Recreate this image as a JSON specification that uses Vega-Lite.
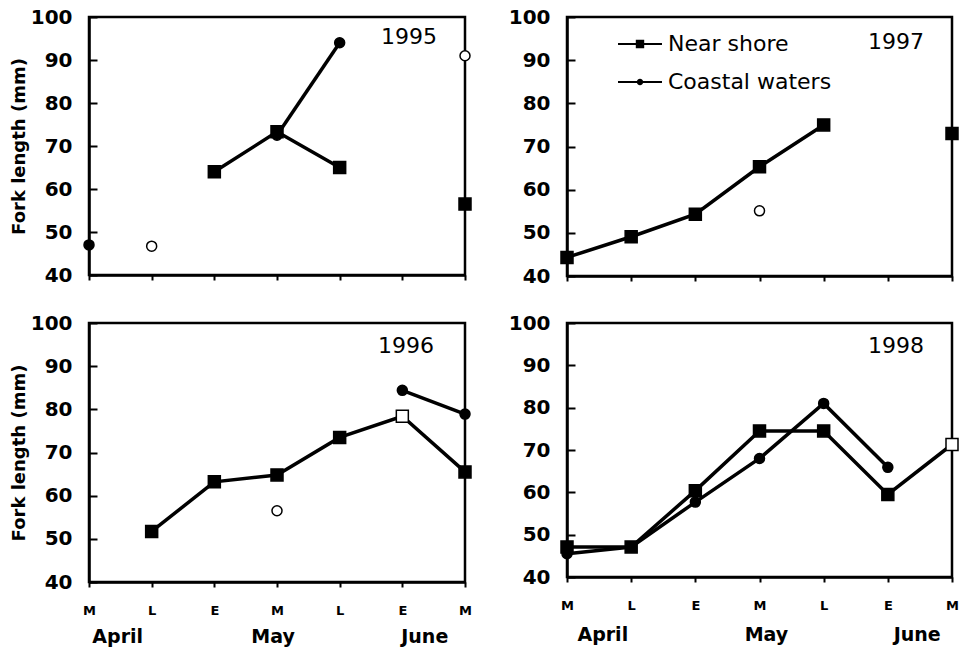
{
  "$schema": "https://vega.github.io/schema/vega-lite/v6.json",
  "padding": {"left": 9, "top": 5, "right": 0, "bottom": 5},
  "background": "white",
  "config": {
    "font": "DejaVu Sans",
    "view": {"stroke": "black", "strokeWidth": 2.5},
    "axis": {"domainColor": "black", "domainWidth": 2.5, "tickColor": "black", "tickWidth": 2, "labelColor": "black", "titleColor": "black", "grid": false, "labelFont": "DejaVu Sans", "titleFont": "DejaVu Sans"},
    "axisY": {"values": [40, 50, 60, 70, 80, 90, 100], "tickSize": -8, "labelFontSize": 20, "labelFontWeight": "bold", "labelPadding": 25, "titleFontSize": 18, "titleFontWeight": "bold", "titlePadding": 2},
    "legend": {"labelFont": "DejaVu Sans"}
  },
  "data": {"values": [
    {"year": 1995, "site": "Coastal waters", "period": 1, "length": 47, "run": "95c1", "n_small": false},
    {"year": 1995, "site": "Coastal waters", "period": 2, "length": 46.7, "run": "95c2", "n_small": true},
    {"year": 1995, "site": "Coastal waters", "period": 4, "length": 72.5, "run": "95c3", "n_small": false},
    {"year": 1995, "site": "Coastal waters", "period": 5, "length": 94, "run": "95c3", "n_small": false},
    {"year": 1995, "site": "Coastal waters", "period": 7, "length": 91, "run": "95c4", "n_small": true},
    {"year": 1995, "site": "Near shore", "period": 3, "length": 64, "run": "95n1", "n_small": false},
    {"year": 1995, "site": "Near shore", "period": 4, "length": 73.3, "run": "95n1", "n_small": false},
    {"year": 1995, "site": "Near shore", "period": 5, "length": 65, "run": "95n1", "n_small": false},
    {"year": 1995, "site": "Near shore", "period": 7, "length": 56.5, "run": "95n2", "n_small": false},
    {"year": 1997, "site": "Coastal waters", "period": 4, "length": 55.1, "run": "97c1", "n_small": true},
    {"year": 1997, "site": "Near shore", "period": 1, "length": 44.3, "run": "97n1", "n_small": false},
    {"year": 1997, "site": "Near shore", "period": 2, "length": 49.1, "run": "97n1", "n_small": false},
    {"year": 1997, "site": "Near shore", "period": 3, "length": 54.3, "run": "97n1", "n_small": false},
    {"year": 1997, "site": "Near shore", "period": 4, "length": 65.3, "run": "97n1", "n_small": false},
    {"year": 1997, "site": "Near shore", "period": 5, "length": 75, "run": "97n1", "n_small": false},
    {"year": 1997, "site": "Near shore", "period": 7, "length": 73, "run": "97n2", "n_small": false},
    {"year": 1996, "site": "Coastal waters", "period": 4, "length": 56.5, "run": "96c1", "n_small": true},
    {"year": 1996, "site": "Coastal waters", "period": 6, "length": 84.4, "run": "96c2", "n_small": false},
    {"year": 1996, "site": "Coastal waters", "period": 7, "length": 78.9, "run": "96c2", "n_small": false},
    {"year": 1996, "site": "Near shore", "period": 2, "length": 51.7, "run": "96n1", "n_small": false},
    {"year": 1996, "site": "Near shore", "period": 3, "length": 63.2, "run": "96n1", "n_small": false},
    {"year": 1996, "site": "Near shore", "period": 4, "length": 64.8, "run": "96n1", "n_small": false},
    {"year": 1996, "site": "Near shore", "period": 5, "length": 73.5, "run": "96n1", "n_small": false},
    {"year": 1996, "site": "Near shore", "period": 6, "length": 78.4, "run": "96n1", "n_small": true},
    {"year": 1996, "site": "Near shore", "period": 7, "length": 65.5, "run": "96n1", "n_small": false},
    {"year": 1998, "site": "Coastal waters", "period": 1, "length": 45.5, "run": "98c1", "n_small": false},
    {"year": 1998, "site": "Coastal waters", "period": 2, "length": 47.1, "run": "98c1", "n_small": false},
    {"year": 1998, "site": "Coastal waters", "period": 3, "length": 57.7, "run": "98c1", "n_small": false},
    {"year": 1998, "site": "Coastal waters", "period": 4, "length": 68, "run": "98c1", "n_small": false},
    {"year": 1998, "site": "Coastal waters", "period": 5, "length": 81, "run": "98c1", "n_small": false},
    {"year": 1998, "site": "Coastal waters", "period": 6, "length": 65.9, "run": "98c1", "n_small": false},
    {"year": 1998, "site": "Near shore", "period": 1, "length": 47.1, "run": "98n1", "n_small": false},
    {"year": 1998, "site": "Near shore", "period": 2, "length": 47.1, "run": "98n1", "n_small": false},
    {"year": 1998, "site": "Near shore", "period": 3, "length": 60.4, "run": "98n1", "n_small": false},
    {"year": 1998, "site": "Near shore", "period": 4, "length": 74.5, "run": "98n1", "n_small": false},
    {"year": 1998, "site": "Near shore", "period": 5, "length": 74.5, "run": "98n1", "n_small": false},
    {"year": 1998, "site": "Near shore", "period": 6, "length": 59.5, "run": "98n1", "n_small": false},
    {"year": 1998, "site": "Near shore", "period": 7, "length": 71.3, "run": "98n1", "n_small": true}
  ]},
  "columns": 2,
  "spacing": {"row": 47, "column": 102},
  "bounds": "flush",
  "resolve": {"scale": {"shape": "independent"}, "legend": {"shape": "independent"}},
  "concat": [
    {
      "width": 376, "height": 258,
      "title": {"text": "1995", "anchor": "end", "offset": -42, "dx": -28, "fontSize": 22, "fontWeight": "normal", "frame": "group", "color": "black"},
      "transform": [{"filter": "datum.year === 1995"}],
      "encoding": {
        "x": {"field": "period", "type": "quantitative", "scale": {"domain": [1, 7], "nice": false, "zero": false}, "axis": {"values": [1, 2, 3, 4, 5, 6, 7], "labels": false, "tickSize": 5, "title": null}},
        "y": {"field": "length", "type": "quantitative", "scale": {"domain": [40, 100], "nice": false, "zero": false}, "axis": {"title": "Fork length (mm)"}}
      },
      "layer": [
        {"mark": {"type": "line", "color": "black", "strokeWidth": 3.5}, "encoding": {"detail": {"field": "run"}}},
        {"transform": [{"filter": "datum.site === 'Coastal waters'"}],
         "mark": {"type": "point", "shape": "circle", "opacity": 1, "stroke": "black", "strokeWidth": 1.5, "size": 100},
         "encoding": {"fill": {"condition": {"test": "datum.n_small", "value": "white"}, "value": "black"}}},
        {"transform": [{"filter": "datum.site === 'Near shore'"}],
         "mark": {"type": "point", "shape": "square", "opacity": 1, "stroke": "black", "strokeWidth": 1.5, "size": 144},
         "encoding": {"fill": {"condition": {"test": "datum.n_small", "value": "white"}, "value": "black"}}}
      ]
    },
    {
      "width": 385, "height": 259,
      "title": {"text": "1997", "anchor": "end", "offset": -47, "dx": -28, "fontSize": 22, "fontWeight": "normal", "frame": "group", "color": "black"},
      "transform": [{"filter": "datum.year === 1997"}],
      "encoding": {
        "x": {"field": "period", "type": "quantitative", "scale": {"domain": [1, 7], "nice": false, "zero": false}, "axis": {"values": [1, 2, 3, 4, 5, 6, 7], "labels": false, "tickSize": 5, "title": null}},
        "y": {"field": "length", "type": "quantitative", "scale": {"domain": [40, 100], "nice": false, "zero": false}, "axis": {"title": null}}
      },
      "layer": [
        {"mark": {"type": "line", "color": "black", "strokeWidth": 3.5}, "encoding": {"detail": {"field": "run"}}},
        {"transform": [{"filter": "datum.site === 'Coastal waters'"}],
         "mark": {"type": "point", "shape": "circle", "opacity": 1, "stroke": "black", "strokeWidth": 1.5, "size": 100},
         "encoding": {"fill": {"condition": {"test": "datum.n_small", "value": "white"}, "value": "black"}}},
        {"transform": [{"filter": "datum.site === 'Near shore'"}],
         "mark": {"type": "point", "shape": "square", "opacity": 1, "stroke": "black", "strokeWidth": 1.5, "size": 144},
         "encoding": {"fill": {"condition": {"test": "datum.n_small", "value": "white"}, "value": "black"}}},
        {"transform": [{"filter": "datum.year === 0"}],
         "mark": {"type": "point", "filled": true, "color": "black", "opacity": 1},
         "encoding": {
           "shape": {"field": "site", "type": "nominal",
             "scale": {"domain": ["Near shore", "Coastal waters"], "range": ["M-1.57,-0.08H1.57V0.08H-1.57ZM-0.3,-0.3H0.3V0.3H-0.3Z", "M-1.57,-0.08H1.57V0.08H-1.57ZM0.23,0A0.23,0.23,0,1,1,-0.23,0A0.23,0.23,0,1,1,0.23,0Z"]},
             "legend": {"title": null, "orient": "none", "legendX": 58, "legendY": 12, "padding": 0, "symbolSize": 784, "symbolFillColor": "black", "symbolOpacity": 1, "labelFontSize": 22, "labelOffset": 13, "rowPadding": 12, "labelColor": "black", "labelLimit": 400}}}}
      ]
    },
    {
      "width": 376, "height": 259,
      "title": {"text": "1996", "anchor": "end", "offset": -45, "dx": -31, "fontSize": 22, "fontWeight": "normal", "frame": "group", "color": "black"},
      "transform": [{"filter": "datum.year === 1996"}],
      "encoding": {
        "y": {"field": "length", "type": "quantitative", "scale": {"domain": [40, 100], "nice": false, "zero": false}, "axis": {"title": "Fork length (mm)"}}
      },
      "layer": [
        {"mark": {"type": "line", "color": "black", "strokeWidth": 3.5},
         "encoding": {
           "x": {"field": "period", "type": "quantitative", "scale": {"domain": [1, 7], "nice": false, "zero": false}, "axis": {"orient": "bottom", "values": [1, 2, 3, 4, 5, 6, 7], "labelExpr": "['M','L','E','M','L','E','M'][datum.value - 1]", "labelFontSize": 13, "labelFontWeight": "bold", "labelFlush": false, "labelOverlap": false, "labelPadding": 17, "tickSize": 5, "title": null}},
           "detail": {"field": "run"}}},
        {"transform": [{"filter": "datum.site === 'Coastal waters'"}],
         "mark": {"type": "point", "shape": "circle", "opacity": 1, "stroke": "black", "strokeWidth": 1.5, "size": 100},
         "encoding": {
           "x": {"field": "period", "type": "quantitative", "scale": {"domain": [1, 7], "nice": false, "zero": false}, "axis": {"orient": "bottom", "values": [1.45, 3.93, 6.35], "labelExpr": "datum.value < 2 ? 'April' : datum.value < 5 ? 'May' : 'June'", "labelFontSize": 19, "labelFontWeight": "bold", "labelFlush": false, "labelOverlap": false, "labelPadding": 45, "ticks": false, "tickSize": 0, "domain": false, "title": null}},
           "fill": {"condition": {"test": "datum.n_small", "value": "white"}, "value": "black"}}},
        {"transform": [{"filter": "datum.site === 'Near shore'"}],
         "mark": {"type": "point", "shape": "square", "opacity": 1, "stroke": "black", "strokeWidth": 1.5, "size": 144},
         "encoding": {
           "x": {"field": "period", "type": "quantitative", "scale": {"domain": [1, 7], "nice": false, "zero": false}, "axis": null},
           "fill": {"condition": {"test": "datum.n_small", "value": "white"}, "value": "black"}}}
      ],
      "resolve": {"axis": {"x": "independent"}}
    },
    {
      "width": 385, "height": 254,
      "title": {"text": "1998", "anchor": "end", "offset": -45, "dx": -28, "fontSize": 22, "fontWeight": "normal", "frame": "group", "color": "black"},
      "transform": [{"filter": "datum.year === 1998"}],
      "encoding": {
        "y": {"field": "length", "type": "quantitative", "scale": {"domain": [40, 100], "nice": false, "zero": false}, "axis": {"title": null}}
      },
      "layer": [
        {"mark": {"type": "line", "color": "black", "strokeWidth": 3.5},
         "encoding": {
           "x": {"field": "period", "type": "quantitative", "scale": {"domain": [1, 7], "nice": false, "zero": false}, "axis": {"orient": "bottom", "values": [1, 2, 3, 4, 5, 6, 7], "labelExpr": "['M','L','E','M','L','E','M'][datum.value - 1]", "labelFontSize": 13, "labelFontWeight": "bold", "labelFlush": false, "labelOverlap": false, "labelPadding": 17, "tickSize": 5, "title": null}},
           "detail": {"field": "run"}}},
        {"transform": [{"filter": "datum.site === 'Coastal waters'"}],
         "mark": {"type": "point", "shape": "circle", "opacity": 1, "stroke": "black", "strokeWidth": 1.5, "size": 100},
         "encoding": {
           "x": {"field": "period", "type": "quantitative", "scale": {"domain": [1, 7], "nice": false, "zero": false}, "axis": {"orient": "bottom", "values": [1.55, 4.1, 6.45], "labelExpr": "datum.value < 2 ? 'April' : datum.value < 5 ? 'May' : 'June'", "labelFontSize": 19, "labelFontWeight": "bold", "labelFlush": false, "labelOverlap": false, "labelPadding": 48, "ticks": false, "tickSize": 0, "domain": false, "title": null}},
           "fill": {"condition": {"test": "datum.n_small", "value": "white"}, "value": "black"}}},
        {"transform": [{"filter": "datum.site === 'Near shore'"}],
         "mark": {"type": "point", "shape": "square", "opacity": 1, "stroke": "black", "strokeWidth": 1.5, "size": 144},
         "encoding": {
           "x": {"field": "period", "type": "quantitative", "scale": {"domain": [1, 7], "nice": false, "zero": false}, "axis": null},
           "fill": {"condition": {"test": "datum.n_small", "value": "white"}, "value": "black"}}}
      ],
      "resolve": {"axis": {"x": "independent"}}
    }
  ]
}
